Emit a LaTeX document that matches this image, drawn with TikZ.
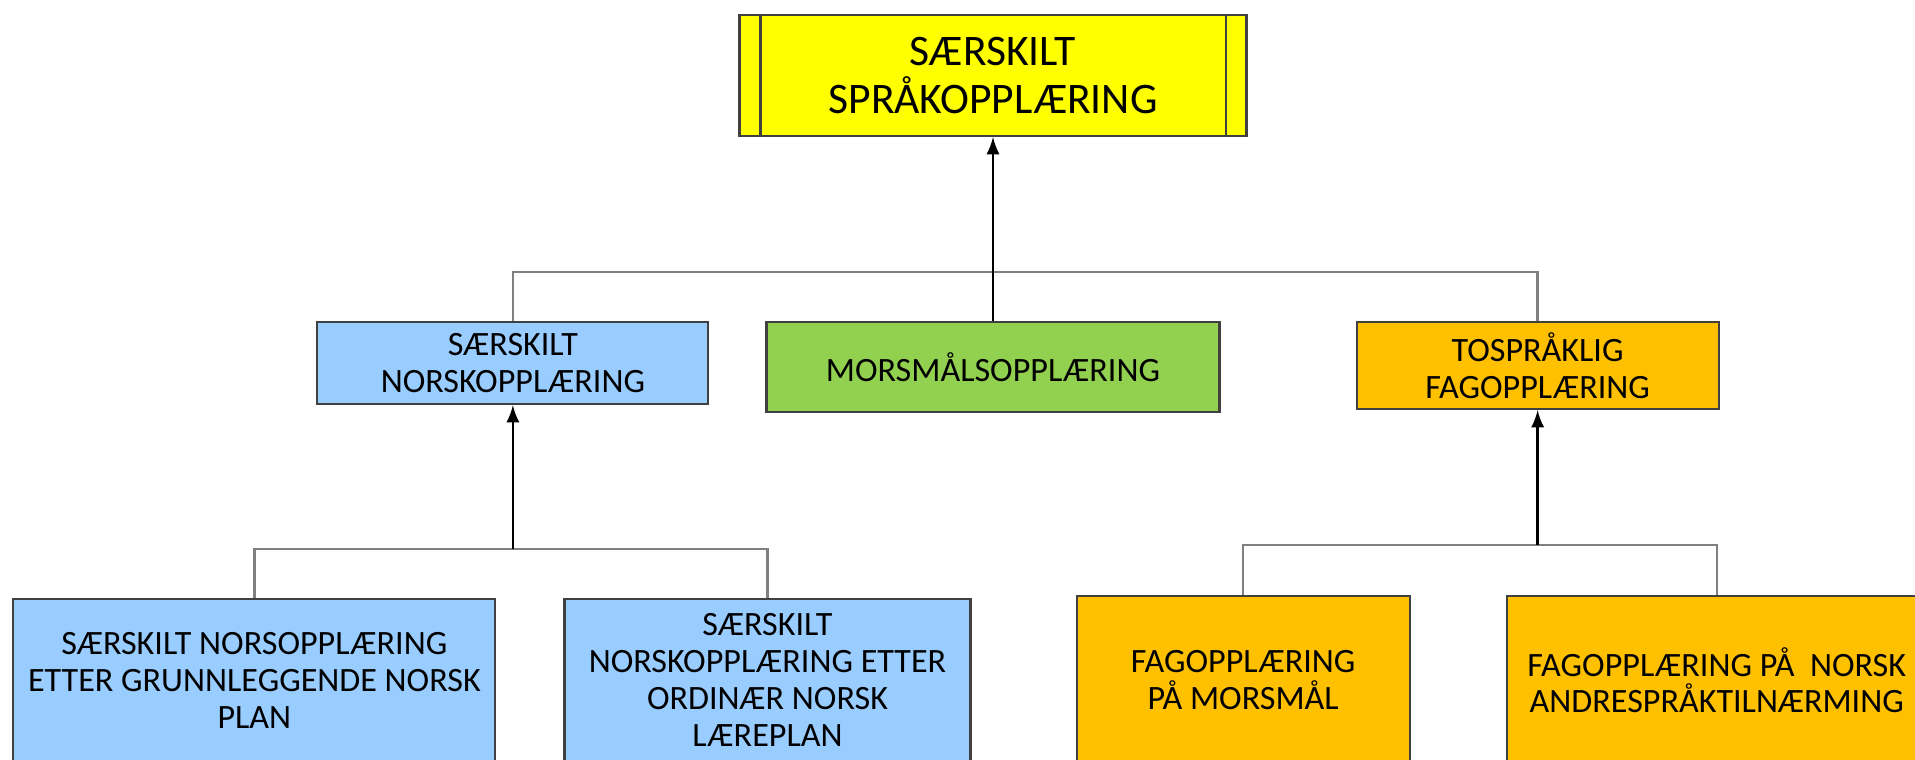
\documentclass[tikz,border=0pt]{standalone}
\usepackage{fontspec}
\setmainfont{Carlito}
\usetikzlibrary{positioning}
\definecolor{lemon}{HTML}{FFFF00}
\definecolor{skyblue}{HTML}{99CCFF}
\definecolor{grassgreen}{HTML}{92D050}
\definecolor{amber}{HTML}{FFC000}
\tikzset{block/.style={draw=black!75,line width=0.6pt,inner sep=0pt,align=center,font=\fontsize{9.7}{10.5}\selectfont},
         line/.style={draw=black!50,line width=0.7pt}
}
\tikzstyle{arrow} = [line width=0.7pt,-latex]

\begin{document}
\begin{tikzpicture}
\useasboundingbox (0,0) rectangle (19.15,-7.60);

\node[block,fill=lemon,minimum width=5.07cm,minimum height=1.21cm,font=\fontsize{12.4}{13.4}\selectfont] (sprak) at (9.93,-0.755) {SÆRSKILT\\SPRÅKOPPLÆRING};
\node[block,fill=grassgreen,minimum width=4.53cm,minimum height=0.90cm,below=1.84cm of sprak] (mors) {MORSMÅLSOPPLÆRING};
\node[block,fill=skyblue,minimum width=3.91cm,minimum height=0.82cm,left=0.56cm of mors.north west,anchor=north east] (norsk) {SÆRSKILT\\NORSKOPPLÆRING};
\node[block,fill=amber,minimum width=3.62cm,minimum height=0.87cm,right=1.35cm of mors.north east,anchor=north west] (tospr) {TOSPRÅKLIG\\FAGOPPLÆRING};
\node[block,fill=skyblue,minimum width=4.82cm,minimum height=1.62cm,below=1.93cm of norsk,xshift=-2.585cm] (grunn) {SÆRSKILT NORSOPPLÆRING\\ETTER GRUNNLEGGENDE NORSK\\PLAN};
\node[block,fill=skyblue,minimum width=4.06cm,minimum height=1.62cm,right=0.67cm of grunn] (ordin) {SÆRSKILT\\NORSKOPPLÆRING ETTER\\ORDINÆR NORSK\\LÆREPLAN};
\node[block,fill=amber,minimum width=3.33cm,minimum height=1.68cm,below=1.85cm of tospr,xshift=-2.945cm] (fagmors) {FAGOPPLÆRING\\PÅ MORSMÅL};
\node[block,fill=amber,minimum width=4.20cm,minimum height=1.68cm,right=0.95cm of fagmors] (fagnorsk) {FAGOPPLÆRING PÅ\ \ NORSK\\ANDRESPRÅKTILNÆRMING};
\draw[black!75,line width=0.6pt] ([xshift=0.22cm]sprak.north west)--([xshift=0.22cm]sprak.south west)
  ([xshift=-0.22cm]sprak.north east)--([xshift=-0.22cm]sprak.south east);

\coordinate[above=0.49cm of mors] (tophub);
\coordinate[below=1.44cm of norsk] (lefthub);
\coordinate[below=1.35cm of tospr] (righthub);
\draw[line] (norsk.north)|-(tophub)-|(tospr.north);
\draw[line] (grunn.north)|-(lefthub)-|(ordin.north);
\draw[line] (fagmors.north)|-(righthub)-|(fagnorsk.north);
\draw[arrow] (mors)--(sprak);
\draw[arrow] (lefthub)--(norsk);
\draw[arrow] (righthub)--(tospr);

\end{tikzpicture}
\end{document}
